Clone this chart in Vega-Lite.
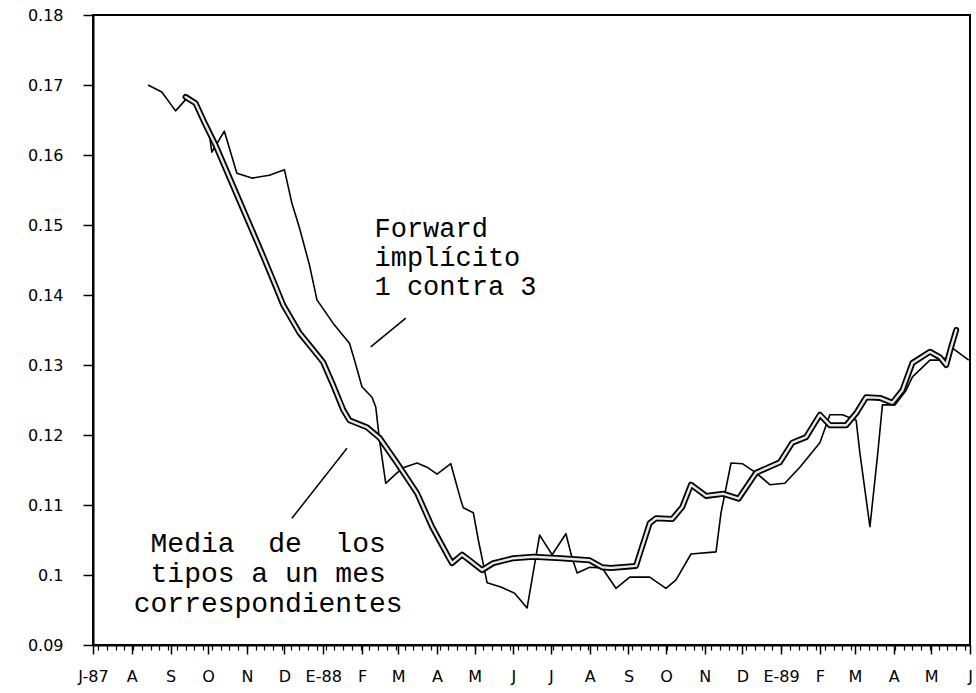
{
  "$schema": "https://vega.github.io/schema/vega-lite/v6.json",
  "autosize": {"type": "none"},
  "padding": {"left": 93, "top": 15, "right": 6, "bottom": 48},
  "width": 877,
  "height": 630,
  "background": "white",
  "config": {
    "view": {"stroke": "black", "strokeWidth": 2},
    "axis": {"grid": false, "domainColor": "black", "domainWidth": 2, "tickColor": "black", "labelColor": "black", "labelFont": "DejaVu Sans", "labelFontSize": 16, "title": null}
  },
  "datasets": {
    "series": [
      {"date": "1987-08-14", "value": 0.1700, "series": "Forward"},
      {"date": "1987-08-25", "value": 0.1690, "series": "Forward"},
      {"date": "1987-09-05", "value": 0.1663, "series": "Forward"},
      {"date": "1987-09-15", "value": 0.1683, "series": "Forward"},
      {"date": "1987-09-21", "value": 0.1674, "series": "Forward"},
      {"date": "1987-09-27", "value": 0.1654, "series": "Forward"},
      {"date": "1987-10-02", "value": 0.1629, "series": "Forward"},
      {"date": "1987-10-04", "value": 0.1604, "series": "Forward"},
      {"date": "1987-10-14", "value": 0.1634, "series": "Forward"},
      {"date": "1987-10-24", "value": 0.1574, "series": "Forward"},
      {"date": "1987-11-05", "value": 0.1567, "series": "Forward"},
      {"date": "1987-11-19", "value": 0.1571, "series": "Forward"},
      {"date": "1987-12-01", "value": 0.1579, "series": "Forward"},
      {"date": "1987-12-07", "value": 0.1531, "series": "Forward"},
      {"date": "1987-12-13", "value": 0.1496, "series": "Forward"},
      {"date": "1987-12-21", "value": 0.1443, "series": "Forward"},
      {"date": "1987-12-27", "value": 0.1393, "series": "Forward"},
      {"date": "1988-01-10", "value": 0.1357, "series": "Forward"},
      {"date": "1988-01-22", "value": 0.1331, "series": "Forward"},
      {"date": "1988-01-26", "value": 0.1307, "series": "Forward"},
      {"date": "1988-02-01", "value": 0.1269, "series": "Forward"},
      {"date": "1988-02-09", "value": 0.1254, "series": "Forward"},
      {"date": "1988-02-12", "value": 0.1240, "series": "Forward"},
      {"date": "1988-02-15", "value": 0.1193, "series": "Forward"},
      {"date": "1988-02-20", "value": 0.1131, "series": "Forward"},
      {"date": "1988-02-29", "value": 0.1146, "series": "Forward"},
      {"date": "1988-03-06", "value": 0.1154, "series": "Forward"},
      {"date": "1988-03-16", "value": 0.1160, "series": "Forward"},
      {"date": "1988-03-24", "value": 0.1154, "series": "Forward"},
      {"date": "1988-04-01", "value": 0.1144, "series": "Forward"},
      {"date": "1988-04-12", "value": 0.1159, "series": "Forward"},
      {"date": "1988-04-20", "value": 0.1107, "series": "Forward"},
      {"date": "1988-04-22", "value": 0.1096, "series": "Forward"},
      {"date": "1988-04-30", "value": 0.1089, "series": "Forward"},
      {"date": "1988-05-04", "value": 0.1050, "series": "Forward"},
      {"date": "1988-05-11", "value": 0.0989, "series": "Forward"},
      {"date": "1988-05-22", "value": 0.0983, "series": "Forward"},
      {"date": "1988-06-02", "value": 0.0974, "series": "Forward"},
      {"date": "1988-06-12", "value": 0.0953, "series": "Forward"},
      {"date": "1988-06-22", "value": 0.1057, "series": "Forward"},
      {"date": "1988-07-02", "value": 0.1029, "series": "Forward"},
      {"date": "1988-07-13", "value": 0.1059, "series": "Forward"},
      {"date": "1988-07-18", "value": 0.1024, "series": "Forward"},
      {"date": "1988-07-22", "value": 0.1003, "series": "Forward"},
      {"date": "1988-08-01", "value": 0.1011, "series": "Forward"},
      {"date": "1988-08-11", "value": 0.1010, "series": "Forward"},
      {"date": "1988-08-22", "value": 0.0981, "series": "Forward"},
      {"date": "1988-09-02", "value": 0.0997, "series": "Forward"},
      {"date": "1988-09-18", "value": 0.0997, "series": "Forward"},
      {"date": "1988-10-01", "value": 0.0981, "series": "Forward"},
      {"date": "1988-10-09", "value": 0.0993, "series": "Forward"},
      {"date": "1988-10-21", "value": 0.1030, "series": "Forward"},
      {"date": "1988-11-10", "value": 0.1033, "series": "Forward"},
      {"date": "1988-11-14", "value": 0.1089, "series": "Forward"},
      {"date": "1988-11-22", "value": 0.1160, "series": "Forward"},
      {"date": "1988-12-01", "value": 0.1159, "series": "Forward"},
      {"date": "1988-12-12", "value": 0.1146, "series": "Forward"},
      {"date": "1988-12-23", "value": 0.1129, "series": "Forward"},
      {"date": "1989-01-04", "value": 0.1131, "series": "Forward"},
      {"date": "1989-01-16", "value": 0.1154, "series": "Forward"},
      {"date": "1989-02-01", "value": 0.1189, "series": "Forward"},
      {"date": "1989-02-09", "value": 0.1229, "series": "Forward"},
      {"date": "1989-02-19", "value": 0.1229, "series": "Forward"},
      {"date": "1989-03-02", "value": 0.1221, "series": "Forward"},
      {"date": "1989-03-05", "value": 0.1174, "series": "Forward"},
      {"date": "1989-03-13", "value": 0.1069, "series": "Forward"},
      {"date": "1989-03-19", "value": 0.1169, "series": "Forward"},
      {"date": "1989-03-23", "value": 0.1243, "series": "Forward"},
      {"date": "1989-04-02", "value": 0.1243, "series": "Forward"},
      {"date": "1989-04-11", "value": 0.1264, "series": "Forward"},
      {"date": "1989-04-16", "value": 0.1283, "series": "Forward"},
      {"date": "1989-04-30", "value": 0.1307, "series": "Forward"},
      {"date": "1989-05-08", "value": 0.1307, "series": "Forward"},
      {"date": "1989-05-13", "value": 0.1310, "series": "Forward"},
      {"date": "1989-05-18", "value": 0.1324, "series": "Forward"},
      {"date": "1989-05-31", "value": 0.1307, "series": "Forward"},
      {"date": "1987-09-13", "value": 0.1683, "series": "Media"},
      {"date": "1987-09-21", "value": 0.1674, "series": "Media"},
      {"date": "1987-09-29", "value": 0.1643, "series": "Media"},
      {"date": "1987-10-07", "value": 0.1614, "series": "Media"},
      {"date": "1987-10-19", "value": 0.1564, "series": "Media"},
      {"date": "1987-10-31", "value": 0.1514, "series": "Media"},
      {"date": "1987-11-12", "value": 0.1464, "series": "Media"},
      {"date": "1987-11-22", "value": 0.1421, "series": "Media"},
      {"date": "1987-11-30", "value": 0.1386, "series": "Media"},
      {"date": "1987-12-13", "value": 0.1346, "series": "Media"},
      {"date": "1987-12-23", "value": 0.1324, "series": "Media"},
      {"date": "1988-01-01", "value": 0.1304, "series": "Media"},
      {"date": "1988-01-09", "value": 0.1271, "series": "Media"},
      {"date": "1988-01-17", "value": 0.1236, "series": "Media"},
      {"date": "1988-01-22", "value": 0.1221, "series": "Media"},
      {"date": "1988-02-05", "value": 0.1211, "series": "Media"},
      {"date": "1988-02-15", "value": 0.1196, "series": "Media"},
      {"date": "1988-02-29", "value": 0.1160, "series": "Media"},
      {"date": "1988-03-16", "value": 0.1117, "series": "Media"},
      {"date": "1988-03-28", "value": 0.1069, "series": "Media"},
      {"date": "1988-04-10", "value": 0.1026, "series": "Media"},
      {"date": "1988-04-13", "value": 0.1017, "series": "Media"},
      {"date": "1988-04-21", "value": 0.1029, "series": "Media"},
      {"date": "1988-04-27", "value": 0.1021, "series": "Media"},
      {"date": "1988-05-07", "value": 0.1007, "series": "Media"},
      {"date": "1988-05-16", "value": 0.1017, "series": "Media"},
      {"date": "1988-06-01", "value": 0.1024, "series": "Media"},
      {"date": "1988-06-17", "value": 0.1026, "series": "Media"},
      {"date": "1988-07-09", "value": 0.1024, "series": "Media"},
      {"date": "1988-08-01", "value": 0.1021, "series": "Media"},
      {"date": "1988-08-11", "value": 0.1011, "series": "Media"},
      {"date": "1988-08-18", "value": 0.1010, "series": "Media"},
      {"date": "1988-09-07", "value": 0.1013, "series": "Media"},
      {"date": "1988-09-18", "value": 0.1074, "series": "Media"},
      {"date": "1988-09-23", "value": 0.1081, "series": "Media"},
      {"date": "1988-10-06", "value": 0.1080, "series": "Media"},
      {"date": "1988-10-14", "value": 0.1097, "series": "Media"},
      {"date": "1988-10-21", "value": 0.1129, "series": "Media"},
      {"date": "1988-11-02", "value": 0.1113, "series": "Media"},
      {"date": "1988-11-16", "value": 0.1116, "series": "Media"},
      {"date": "1988-11-28", "value": 0.1109, "series": "Media"},
      {"date": "1988-12-12", "value": 0.1146, "series": "Media"},
      {"date": "1988-12-31", "value": 0.1161, "series": "Media"},
      {"date": "1989-01-10", "value": 0.1189, "series": "Media"},
      {"date": "1989-01-21", "value": 0.1197, "series": "Media"},
      {"date": "1989-02-01", "value": 0.1229, "series": "Media"},
      {"date": "1989-02-09", "value": 0.1214, "series": "Media"},
      {"date": "1989-02-22", "value": 0.1214, "series": "Media"},
      {"date": "1989-03-02", "value": 0.1231, "series": "Media"},
      {"date": "1989-03-10", "value": 0.1254, "series": "Media"},
      {"date": "1989-03-21", "value": 0.1253, "series": "Media"},
      {"date": "1989-03-31", "value": 0.1246, "series": "Media"},
      {"date": "1989-04-08", "value": 0.1264, "series": "Media"},
      {"date": "1989-04-16", "value": 0.1303, "series": "Media"},
      {"date": "1989-04-30", "value": 0.1319, "series": "Media"},
      {"date": "1989-05-08", "value": 0.1311, "series": "Media"},
      {"date": "1989-05-13", "value": 0.1300, "series": "Media"},
      {"date": "1989-05-17", "value": 0.1326, "series": "Media"},
      {"date": "1989-05-21", "value": 0.1350, "series": "Media"}
    ],
    "pointers": [
      {"date": "1988-02-08", "value": 0.1326, "date2": "1988-03-07", "value2": 0.1367},
      {"date": "1987-12-07", "value": 0.1081, "date2": "1988-01-20", "value2": 0.1181}
    ],
    "notes": [
      {"date": "1988-02-11", "value": 0.1483, "text": "Forward\nimplícito\n1 contra 3", "pos": "left"},
      {"date": "1987-11-18", "value": 0.1033, "text": "Media\u00a0\u00a0de\u00a0\u00a0los\ntipos a un mes\ncorrespondientes", "pos": "center"}
    ]
  },
  "encoding": {
    "x": {
      "field": "date", "type": "temporal",
      "scale": {"type": "utc", "domain": ["1987-07-01", "1989-06-01"], "nice": false},
      "axis": null
    },
    "y": {
      "field": "value", "type": "quantitative",
      "scale": {"domain": [0.09, 0.18], "nice": false, "zero": false},
      "axis": {"values": [0.09, 0.1, 0.11, 0.12, 0.13, 0.14, 0.15, 0.16, 0.17, 0.18], "format": ".2~f", "tickSize": 10, "tickWidth": 1.5, "labelPadding": 20}
    }
  },
  "resolve": {"axis": {"x": "independent"}},
  "layer": [
    {
      "data": {"name": "series"},
      "transform": [{"filter": "datum.series == 'Forward'"}],
      "mark": {"type": "line", "color": "black", "strokeWidth": 1.6, "strokeJoin": "round"},
      "encoding": {
        "x": {
          "field": "date", "type": "temporal",
          "scale": {"type": "utc", "domain": ["1987-07-01", "1989-06-01"], "nice": false},
          "axis": {
            "orient": "bottom",
            "tickCount": {"interval": "month", "step": 1},
            "labelOverlap": false, "labelFlush": false, "labelBound": false,
            "tickSize": 9, "tickWidth": 1.5, "labelPadding": 14,
            "labelExpr": "(utcmonth(datum.value) == 0 || (utcmonth(datum.value) == 6 && utcyear(datum.value) == 1987)) ? ['E','F','M','A','M','J','J','A','S','O','N','D'][utcmonth(datum.value)] + '-' + (utcyear(datum.value) % 100) : ['E','F','M','A','M','J','J','A','S','O','N','D'][utcmonth(datum.value)]"
          }
        }
      }
    },
    {
      "data": {"name": "series"},
      "transform": [{"filter": "datum.series == 'Media'"}],
      "mark": {"type": "line", "color": "black", "strokeWidth": 6, "strokeJoin": "round", "strokeCap": "round"},
      "encoding": {
        "x": {
          "field": "date", "type": "temporal",
          "scale": {"type": "utc", "domain": ["1987-07-01", "1989-06-01"], "nice": false},
          "axis": {
            "orient": "bottom",
            "tickCount": 100,
            "domain": false, "labels": false,
            "tickSize": 5, "tickWidth": 1.2
          }
        }
      }
    },
    {
      "data": {"name": "series"},
      "transform": [{"filter": "datum.series == 'Media'"}],
      "mark": {"type": "line", "color": "#e8e8e8", "strokeWidth": 2.4, "strokeJoin": "round", "strokeCap": "round"}
    },
    {
      "data": {"name": "pointers"},
      "mark": {"type": "rule", "color": "black", "strokeWidth": 1.5},
      "encoding": {
        "x2": {"field": "date2"},
        "y2": {"field": "value2"}
      }
    },
    {
      "data": {"name": "notes"},
      "transform": [{"filter": "datum.pos == 'left'"}],
      "mark": {"type": "text", "align": "left", "baseline": "alphabetic", "font": "Liberation Mono", "fontSize": 27, "lineBreak": "\n", "lineHeight": 29, "color": "black"},
      "encoding": {"text": {"field": "text"}}
    },
    {
      "data": {"name": "notes"},
      "transform": [{"filter": "datum.pos == 'center'"}],
      "mark": {"type": "text", "align": "center", "baseline": "alphabetic", "font": "Liberation Mono", "fontSize": 28, "lineBreak": "\n", "lineHeight": 30, "color": "black"},
      "encoding": {"text": {"field": "text"}}
    }
  ]
}
